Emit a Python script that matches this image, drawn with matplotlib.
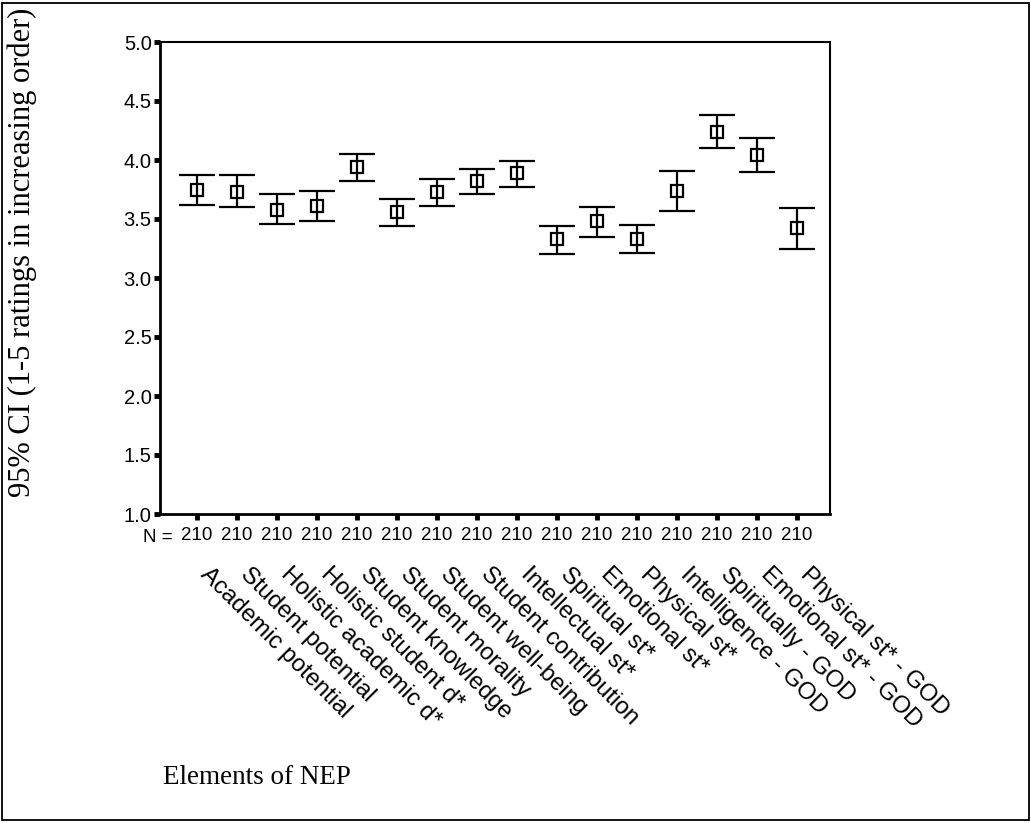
import matplotlib
matplotlib.use('Agg')
import matplotlib.pyplot as plt
from matplotlib.patches import Rectangle
from matplotlib.transforms import blended_transform_factory
import numpy as np


# Elements of NEP, mean rating and 95% CI bounds (N = 210 each)
elements = ['Academic potential', 'Student potential', 'Holistic academic d*',
            'Holistic student d*', 'Student knowledge', 'Student morality',
            'Student well-being', 'Student contribution', 'Intellectual st*',
            'Spiritual st*', 'Emotional st*', 'Physical st*',
            'Intelligence - GOD', 'Spiritually - GOD', 'Emotional st* - GOD',
            'Physical st* - GOD']
means = [3.75, 3.73, 3.58, 3.61, 3.94, 3.56, 3.73, 3.82, 3.89,
         3.33, 3.48, 3.33, 3.74, 4.24, 4.04, 3.42]
ci_low = [3.62, 3.60, 3.46, 3.48, 3.82, 3.44, 3.61, 3.71, 3.77,
          3.20, 3.35, 3.21, 3.57, 4.10, 3.90, 3.25]
ci_high = [3.87, 3.87, 3.71, 3.74, 4.05, 3.67, 3.84, 3.92, 3.99,
           3.44, 3.60, 3.45, 3.91, 4.38, 4.19, 3.59]
n_counts = [210] * 16
yticks = [1.0, 1.5, 2.0, 2.5, 3.0, 3.5, 4.0, 4.5, 5.0]

sans = ['Liberation Sans', 'DejaVu Sans']
serif = ['Liberation Serif', 'DejaVu Serif']

x = np.arange(1, len(elements) + 1)
means = np.array(means)
err = [means - np.array(ci_low), np.array(ci_high) - means]

fig = plt.figure(figsize=(10.31, 8.23), dpi=100)
ax = fig.add_axes([160 / 1031, 1 - 514 / 823, 670 / 1031, 472 / 823])

ax.errorbar(x, means, yerr=err, fmt='s', ms=9, mfc='none', mec='black',
            mew=1.6, ecolor='black', elinewidth=1.6, capsize=13,
            capthick=1.6, color='black')

ax.set_xlim(0.08, 16.83)
ax.set_ylim(1.0, 5.0)
ax.set_yticks(yticks)
ax.set_yticklabels([f'{v:.1f}' for v in yticks], family=sans, fontsize=14.5)
ax.set_xticks(x)
ax.set_xticklabels([str(n) for n in n_counts], family=sans, fontsize=13.5)
ax.tick_params(axis='y', direction='out', length=4, width=3.5, pad=2)
ax.tick_params(axis='x', direction='out', length=4, width=3.5, pad=5)

ax.spines['left'].set_linewidth(2)
ax.spines['bottom'].set_linewidth(2)
ax.spines['top'].set_linewidth(1.5)
ax.spines['right'].set_linewidth(1.5)

trans = blended_transform_factory(ax.transData, ax.transAxes)
ax.text(0.40, -0.049, 'N =', transform=trans, ha='right', va='center',
        family=sans, fontsize=13.5)

# diagonal element names under the N counts
for xi, name in zip(x, elements):
    ax.text(xi + 0.38, -0.104, name, transform=trans, rotation=-45,
            rotation_mode='anchor', ha='left', va='top', family=sans,
            fontsize=17.3)

fig.text(22 / 1031, 1 - 252 / 823, '95% CI (1-5 ratings in increasing order)',
         rotation=90, ha='center', va='center', family=serif, fontsize=22)
fig.text(163 / 1031, 1 - 778 / 823, 'Elements of NEP', ha='left',
         va='center', family=serif, fontsize=19.5)

fig.patches.append(Rectangle((2 / 1031, 3 / 823), 1027 / 1031, 817 / 823,
                             transform=fig.transFigure, fill=False,
                             edgecolor='black', linewidth=1.3))

fig.savefig('out.png', dpi=100)
